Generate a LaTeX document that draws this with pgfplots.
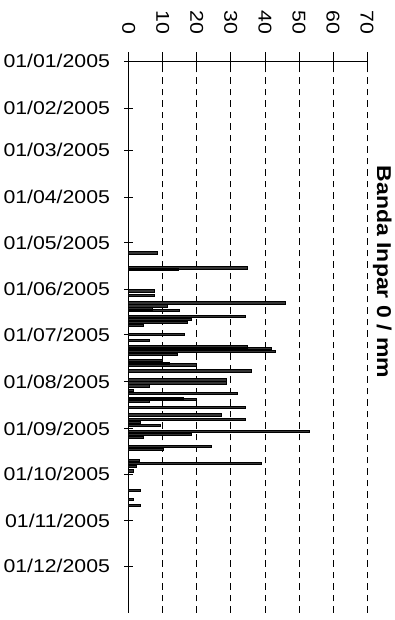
\documentclass[border=0pt]{standalone}
\usepackage{pgfplots}
\pgfplotsset{compat=1.18}
\usepackage{fontspec}
\setmainfont{Liberation Sans}[FakeStretch=1.15]
\begin{document}
\begin{tikzpicture}[x=1pt,y=1pt]
\useasboundingbox (0,0) rectangle (394,620);
\begin{axis}[
  at={(128.7pt,7pt)}, anchor=south west, scale only axis,
  width=238.3pt, height=552pt,
  xbar, bar width=1.6,
  xmin=0, xmax=70, ymin=-365, ymax=0,
  axis x line*=top, axis y line*=left,
  axis line style={black, line width=0.7pt},
  xtick={0,10,...,70},
  ytick={0,-31,-59,-90,-120,-151,-181,-212,-243,-273,-304,-334},
  yticklabels={01/01/2005,01/02/2005,01/03/2005,01/04/2005,01/05/2005,01/06/2005,01/07/2005,01/08/2005,01/09/2005,01/10/2005,01/11/2005,01/12/2005},
  major tick length=9pt,
  x tick style={black, line width=0.7pt, /pgfplots/major tick length=17pt},
  xtick align=center,
  y tick style={black, line width=0.7pt},
  ytick align=center,
  xticklabel style={font=\fontsize{18.5}{20}\selectfont, rotate=-90, anchor=east, inner sep=0pt},
  xticklabel shift=22pt,
  yticklabel style={font=\fontsize{18.5}{20}\selectfont, anchor=east, inner sep=0pt},
  yticklabel shift=14pt,
  /pgf/number format/assume math mode=true,
  xmajorgrids,
  major grid style={black, line width=0.7pt, dash pattern=on 6.5pt off 5pt},
]
\addplot[fill=black!80, draw=black, line width=1pt] coordinates {
(8.5,-127) (35,-137) (14.5,-138)
(7.5,-152) (7.5,-155)
(46,-160) (11.5,-162) (7,-164) (15,-165)
(34.4,-169) (18.5,-171) (17.4,-173) (4.4,-175)
(16.3,-181) (6,-185) (35,-189) (42,-190) (43,-192) (14.4,-194)
(10,-198) (12,-200) (20,-201) (36,-205)
(28.6,-211) (28.6,-213) (6,-215) (1.4,-218) (32,-220)
(16,-223) (20,-224) (6,-225) (34.4,-229)
(27.3,-234) (34.4,-237) (3.4,-239) (9.2,-241)
(53,-245) (18.5,-247) (4.4,-249)
(24.4,-255) (10.2,-257)
(3.3,-264) (39,-266) (2.2,-268) (1.4,-271)
(3.4,-284) (1.4,-290) (3.4,-294)
};
\end{axis}
\node[rotate=-90, anchor=base, inner sep=0pt, font=\bfseries\fontsize{20}{22}\selectfont] at (377,348) {Banda Inpar 0 / mm};
\end{tikzpicture}
\end{document}
